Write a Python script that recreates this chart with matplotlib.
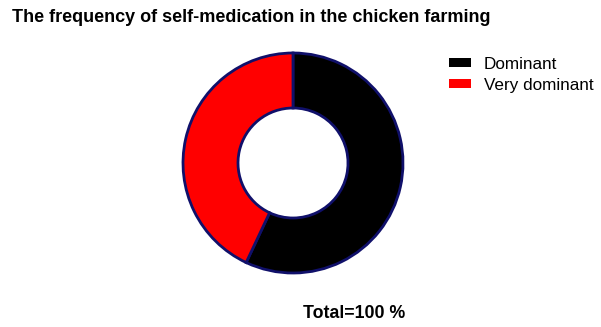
import matplotlib.pyplot as plt

labels = ['Dominant', 'Very dominant']
values = [57, 43]
colors = ['black', 'red']

plt.rcParams['font.family'] = ['Liberation Sans', 'DejaVu Sans']

fig = plt.figure(figsize=(6.01, 3.27), dpi=100)

# donut centred at (293, 163) px with outer radius 110 px
cx, cy, r = 293, 163, 110
pad = 1.05 * r
ax = fig.add_axes([(cx - pad) / 601, (327 - cy - pad) / 327, 2 * pad / 601, 2 * pad / 327])
wedges, _ = ax.pie(values, colors=colors, startangle=90, counterclock=False,
                   radius=1, wedgeprops=dict(width=0.5, edgecolor='#10106a', linewidth=2))
ax.set_xlim(-1.05, 1.05)
ax.set_ylim(-1.05, 1.05)
ax.axis('off')

fig.text(0.02, 0.948, 'The frequency of self-medication in the chicken farming',
         fontsize=13, fontweight='bold', va='center', ha='left')
fig.text(354 / 601, 1 - 314 / 327, 'Total=100 %', fontsize=12.8, fontweight='bold',
         ha='center', va='center')

fig.legend(wedges, labels, loc='upper left', bbox_to_anchor=(440 / 601, 1 - 48 / 327),
           frameon=False, fontsize=12.3, handlelength=1.3, handleheight=0.4,
           handletextpad=0.75, labelspacing=0.35, borderpad=0)
for h in fig.legends[0].legend_handles:
    h.set_edgecolor('none')

fig.savefig('out.png', dpi=100)
